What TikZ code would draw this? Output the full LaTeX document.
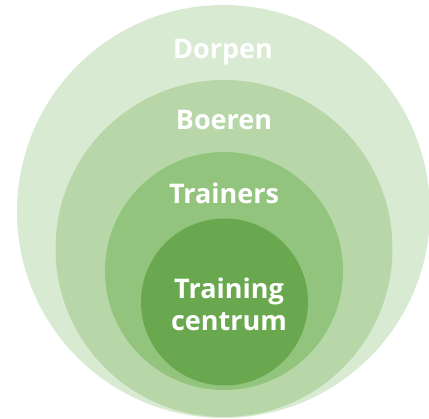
\documentclass[tikz,border=0pt]{standalone}
\usepackage{fontspec}
\setmainfont{Open Sans}
\definecolor{ringA}{HTML}{D9EAD3}
\definecolor{ringB}{HTML}{B7D7A8}
\definecolor{ringC}{HTML}{93C47D}
\definecolor{ringD}{HTML}{6AA84F}
\tikzset{
  lbl/.style={text=white, font=\bfseries\fontsize{27}{32}\selectfont, align=center, inner sep=0pt}
}
\begin{document}
\begin{tikzpicture}[x=1pt,y=-1pt]
\useasboundingbox (0,0) rectangle (429,419);
\clip (0,0) rectangle (429,419);
\fill[ringA] (223.5,211.5) circle (206.5);
\fill[ringB] (224,248.5) circle (168.5);
\fill[ringC] (224,271) circle (119);
\fill[ringD] (224.5,302) circle (83.5);
\node[lbl] (dorpen) at (223,52) {Dorpen};
\node[lbl] (boeren) at (224,120) {Boeren};
\node[lbl] (trainers) at (224,193) {Trainers};
\node[lbl] (centrum) at (229,304) {Training\\centrum};
\end{tikzpicture}
\end{document}
